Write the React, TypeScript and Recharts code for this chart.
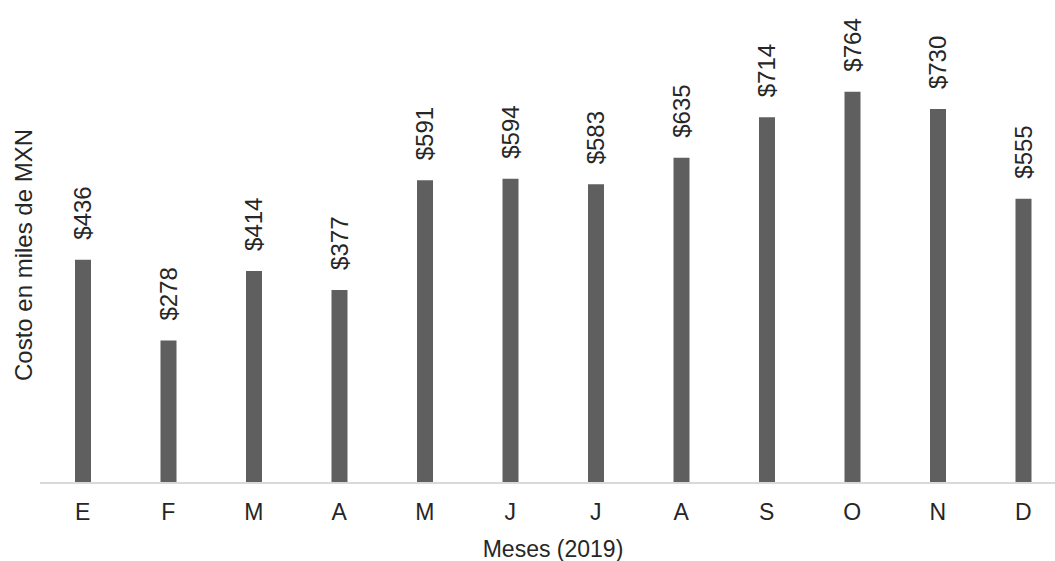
import React from "react";
import { BarChart, Bar, XAxis, YAxis, LabelList, Label } from "recharts";

const months = ["E", "F", "M", "A", "M", "J", "J", "A", "S", "O", "N", "D"];
const costs = [436, 278, 414, 377, 591, 594, 583, 635, 714, 764, 730, 555];

const data = months.map((m, i) => ({ key: `${m}${i}`, month: m, cost: costs[i] }));

const FONT = "'Liberation Sans', Arial, sans-serif";
const TEXT = "#262626";

const RotatedLabel = (props: any) => {
  const { x, y, width, value } = props;
  const cx = x + width / 2;
  const cy = y - 20;
  return (
    <text
      x={cx}
      y={cy}
      transform={`rotate(-90, ${cx}, ${cy})`}
      textAnchor="start"
      dominantBaseline="central"
      fontFamily={FONT}
      fontSize={24}
      fill={TEXT}
    >
      {`$${value}`}
    </text>
  );
};

export default function App() {
  return (
    <div
      style={{
        position: "fixed",
        left: 0,
        top: 0,
        width: 1055,
        height: 561,
        overflow: "hidden",
        background: "#ffffff",
      }}
    >
      <BarChart
        width={1066}
        height={561}
        data={data}
        margin={{ top: 22, right: 0, bottom: 0, left: 40 }}
        barSize={16}
      >
        <XAxis
          dataKey="key"
          height={78}
          tickFormatter={(v: string, i: number) => months[i]}
          axisLine={{ stroke: "#d9d9d9", strokeWidth: 2 }}
          tickLine={false}
          tick={{ fontFamily: FONT, fontSize: 23, fill: TEXT }}
          tickMargin={15}
          interval={0}
        >
          <Label
            value="Meses (2019)"
            position="insideBottom"
            offset={4}
            style={{ fontFamily: FONT, fontSize: 23, fill: TEXT }}
          />
        </XAxis>
        <YAxis hide domain={[0, 900]} />
        <Bar dataKey="cost" fill="#5f5f5f" isAnimationActive={false}>
          <LabelList dataKey="cost" content={RotatedLabel} />
        </Bar>
        <text
          x={23}
          y={255}
          transform="rotate(-90, 23, 255)"
          textAnchor="middle"
          dominantBaseline="central"
          fontFamily={FONT}
          fontSize={24}
          fill={TEXT}
        >
          Costo en miles de MXN
        </text>
      </BarChart>
    </div>
  );
}
